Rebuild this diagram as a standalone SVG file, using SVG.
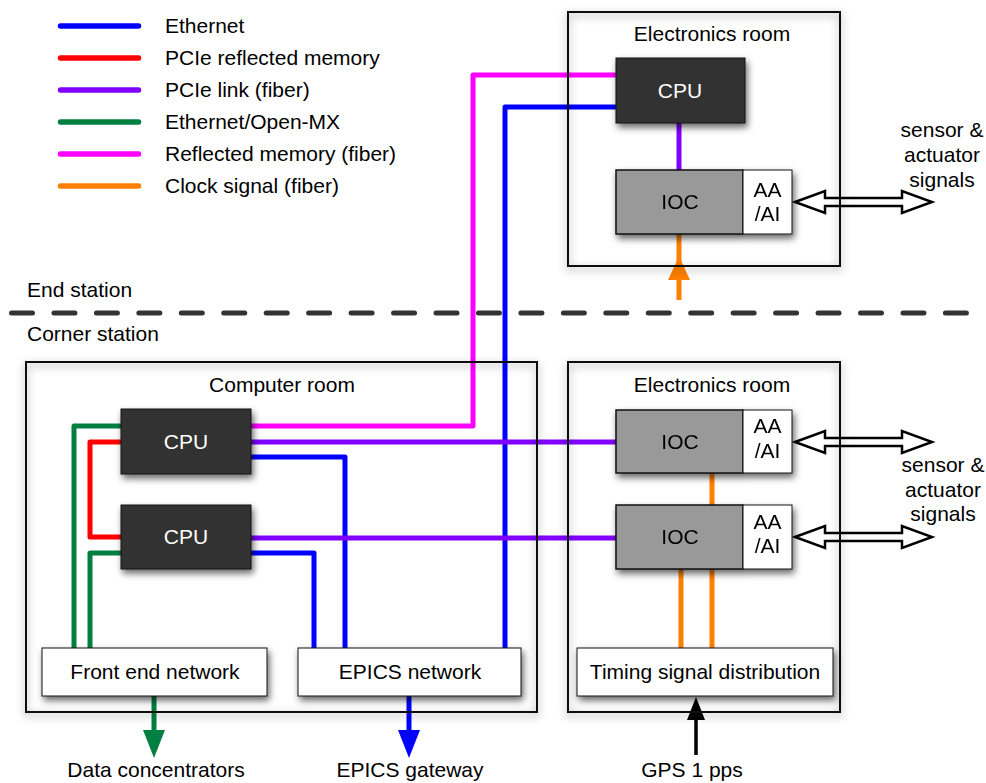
<svg xmlns="http://www.w3.org/2000/svg" width="986" height="783" viewBox="0 0 986 783">
<defs>
<filter id="sh" x="-20%" y="-20%" width="150%" height="160%">
<feDropShadow dx="2" dy="4" stdDeviation="3.5" flood-color="#000" flood-opacity="0.6"/>
</filter>
<filter id="rsh" x="-10%" y="-10%" width="120%" height="120%">
<feDropShadow dx="0" dy="3" stdDeviation="4.5" flood-color="#000" flood-opacity="0.45"/>
</filter>
<style>
text{font-family:"Liberation Sans",Arial,Helvetica,sans-serif;font-size:21px;fill:#000}
.c{text-anchor:middle}
.w{fill:#fff}
.room{fill:none;stroke:#111;stroke-width:2;filter:url(#rsh)}
.cpu{fill:#333;stroke:#111;stroke-width:1;filter:url(#sh)}
.ioc{fill:#999;stroke:#111;stroke-width:1.5}
.aa{fill:#fff;stroke:#111;stroke-width:1}
.net{fill:#fff;stroke:#111;stroke-width:1;filter:url(#sh)}
.ln{fill:none;stroke-width:5;stroke-linejoin:round}
.lg{stroke-width:5.5;stroke-linecap:round}
.blue{stroke:#0000ff}
.red{stroke:#ff0000}
.pur{stroke:#8000ff}
.grn{stroke:#008040}
.mag{stroke:#ff00ff}
.org{stroke:#ff8000}
.dbl{fill:#fff;stroke:#000;stroke-width:2.5;stroke-linejoin:miter}
</style>
</defs>
<rect width="986" height="783" fill="#fff"/>

<g id="legend">
<line class="lg blue" x1="60.5" y1="26" x2="138.5" y2="26"/>
<line class="lg red" x1="60.5" y1="58" x2="138.5" y2="58"/>
<line class="lg pur" x1="60.5" y1="90" x2="138.5" y2="90"/>
<line class="lg grn" x1="60.5" y1="122" x2="138.5" y2="122"/>
<line class="lg mag" x1="60.5" y1="154" x2="138.5" y2="154"/>
<line class="lg org" x1="60.5" y1="186" x2="138.5" y2="186"/>
<text x="165" y="33">Ethernet</text>
<text x="165" y="65">PCIe reflected memory</text>
<text x="165" y="97">PCIe link (fiber)</text>
<text x="165" y="129">Ethernet/Open-MX</text>
<text x="165" y="161">Reflected memory (fiber)</text>
<text x="165" y="193">Clock signal (fiber)</text>
</g>

<g id="divider">
<line x1="11.5" y1="313" x2="967" y2="313" stroke="#333" stroke-width="5" stroke-linecap="round" stroke-dasharray="21 21.45"/>
<text x="27" y="297">End station</text>
<text x="27" y="341">Corner station</text>
</g>

<g id="connectors">
<polyline class="ln mag" points="251,426 473,426 473,75 616,75"/>
<polyline class="ln blue" points="505,648 505,107 616,107"/>
<line class="ln pur" x1="679" y1="123" x2="679" y2="170"/>
<polyline class="ln grn" points="121,426 74,426 74,648"/>
<polyline class="ln red" points="121,442 90,442 90,537 121,537"/>
<polyline class="ln grn" points="121,553 90,553 90,648"/>
<line class="ln pur" x1="251" y1="442" x2="616" y2="442"/>
<polyline class="ln blue" points="251,457 345,457 345,648"/>
<line class="ln pur" x1="251" y1="538" x2="616" y2="538"/>
<polyline class="ln blue" points="251,553 314,553 314,648"/>
<line class="ln org" x1="712" y1="473" x2="712" y2="505"/>
<line class="ln org" x1="681" y1="569" x2="681" y2="648"/>
<line class="ln org" x1="712" y1="569" x2="712" y2="648"/>
<line class="ln org" x1="679" y1="234" x2="679" y2="300"/>
<polygon points="668,280 690,280 679,256" fill="#ff8000"/>
<line class="ln grn" x1="154" y1="696" x2="154" y2="732"/>
<polygon points="143,730 165,730 154,758" fill="#008040"/>
<line class="ln blue" x1="409" y1="696" x2="409" y2="732"/>
<polygon points="398,730 420,730 409,758" fill="#0000ff"/>
<line x1="696" y1="755" x2="696" y2="716" stroke="#000" stroke-width="3.5"/>
<polygon points="687,720 705,720 696,697" fill="#000"/>
<polygon class="dbl" points="795,202 825,191 825,198 902,198 902,191 932,202 902,213 902,206 825,206 825,213"/>
<polygon class="dbl" points="795,442 825,431 825,438 902,438 902,431 932,442 902,453 902,446 825,446 825,453"/>
<polygon class="dbl" points="795,537 825,526 825,533 902,533 902,526 932,537 902,548 902,541 825,541 825,548"/>
</g>

<g id="room-end-electronics">
<rect class="room" x="568" y="12" width="272" height="254"/>
<text class="c" x="712" y="41">Electronics room</text>
</g>
<g id="room-computer">
<rect class="room" x="26" y="362" width="511" height="350"/>
<text class="c" x="282" y="392">Computer room</text>
</g>
<g id="room-corner-electronics">
<rect class="room" x="568" y="362" width="272" height="350"/>
<text class="c" x="712" y="392">Electronics room</text>
</g>

<g id="cpu-end">
<rect class="cpu" x="616" y="58" width="129" height="65"/>
<text class="c w" x="680" y="98">CPU</text>
</g>
<g id="ioc-end" filter="url(#sh)">
<rect class="ioc" x="616" y="170" width="127" height="64"/>
<rect class="aa" x="743" y="170" width="49" height="64"/>
<text class="c" x="680" y="209">IOC</text>
<text class="c" x="767.5" y="197">AA</text>
<text class="c" x="767.5" y="221">/AI</text>
</g>
<g id="cpu-1">
<rect class="cpu" x="121" y="409" width="130" height="65"/>
<text class="c w" x="186" y="449">CPU</text>
</g>
<g id="cpu-2">
<rect class="cpu" x="121" y="505" width="130" height="64"/>
<text class="c w" x="186" y="544">CPU</text>
</g>
<g id="ioc-1" filter="url(#sh)">
<rect class="ioc" x="616" y="410" width="127" height="63"/>
<rect class="aa" x="743" y="410" width="49" height="63"/>
<text class="c" x="680" y="449">IOC</text>
<text class="c" x="767.5" y="433">AA</text>
<text class="c" x="767.5" y="458">/AI</text>
</g>
<g id="ioc-2" filter="url(#sh)">
<rect class="ioc" x="616" y="505" width="127" height="64"/>
<rect class="aa" x="743" y="505" width="49" height="64"/>
<text class="c" x="680" y="544">IOC</text>
<text class="c" x="767.5" y="529">AA</text>
<text class="c" x="767.5" y="553">/AI</text>
</g>
<g id="front-end-network">
<rect class="net" x="42" y="648" width="225" height="48"/>
<text class="c" x="155" y="679">Front end network</text>
</g>
<g id="epics-network">
<rect class="net" x="298" y="648" width="223" height="48"/>
<text class="c" x="410" y="679">EPICS network</text>
</g>
<g id="timing">
<rect class="net" x="577" y="648" width="256" height="48"/>
<text class="c" x="705" y="679">Timing signal distribution</text>
</g>

<g id="labels">
<text class="c" x="942" y="137">sensor &amp;</text>
<text class="c" x="942" y="162">actuator</text>
<text class="c" x="942" y="187">signals</text>
<text class="c" x="943" y="472">sensor &amp;</text>
<text class="c" x="943" y="497">actuator</text>
<text class="c" x="943" y="521">signals</text>
<text class="c" x="156" y="777">Data concentrators</text>
<text class="c" x="410" y="777">EPICS gateway</text>
<text class="c" x="692" y="777">GPS 1 pps</text>
</g>
</svg>
